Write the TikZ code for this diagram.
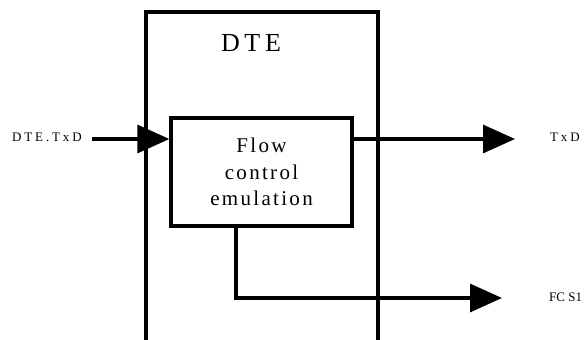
\documentclass[tikz,border=0pt]{standalone}
\usepackage{fontspec}
\setmainfont{Liberation Serif}
\usetikzlibrary{arrows.meta}
\begin{document}
\begin{tikzpicture}[x=1pt,y=-1pt,
  box/.style={draw,line width=3.2pt,inner sep=0pt},
  conn/.style={line width=3.2pt},
  tip/.style={-{Triangle[length=32pt,width=28pt]}},
  lbl/.style={inner sep=0pt,font=\fontsize{13}{15}\selectfont\addfontfeature{LetterSpace=22}}]
\useasboundingbox (0,0) rectangle (584,340);
\node[box,minimum width=232pt,minimum height=352pt] (dte) at (262,188) {};
\node[inner sep=0pt,font=\fontsize{26}{30}\selectfont\addfontfeature{LetterSpace=18}] (dtetitle) at (251,43) {DTE};
\node[box,minimum width=181pt,minimum height=108pt,align=center,
  font=\fontsize{21}{26.5}\selectfont\addfontfeature{LetterSpace=11}] (flow) at (261.5,172) {Flow\\control\\emulation};
\node[lbl,anchor=base west] (in) at (12,141) {DTE.TxD};
\node[lbl,anchor=base west] (txd) at (550,141) {TxD};
\node[inner sep=0pt,font=\fontsize{13}{15}\selectfont,anchor=base west] (fcs) at (549,301) {FC S1};
\coordinate (instart) at (92,139);
\coordinate (txdend) at (515,139);
\coordinate (fcsbend) at (236,298);
\coordinate (fcsend) at (502,298);
\draw[conn,tip] (instart) -- (flow.west |- instart);
\draw[conn,tip] (flow.east |- txdend) -- (txdend);
\draw[conn,tip] (flow.south -| fcsbend) -- (fcsbend) -- (fcsend);
\end{tikzpicture}
\end{document}
